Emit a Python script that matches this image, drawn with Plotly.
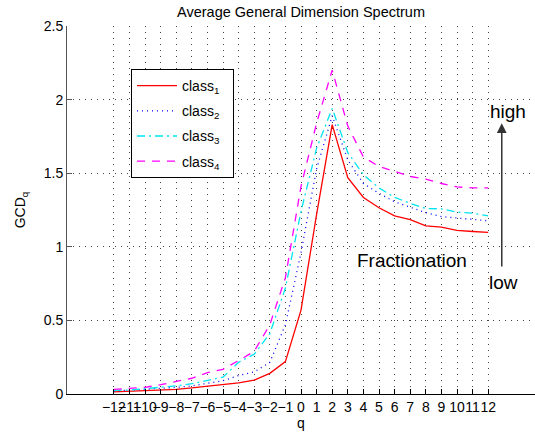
import plotly.graph_objects as go

q = list(range(-12, 13))

class1 = [0.015, 0.018, 0.021, 0.025, 0.032, 0.042, 0.053, 0.062, 0.075, 0.095, 0.14, 0.22,
          0.57, 1.22, 1.83, 1.47, 1.335, 1.265, 1.21, 1.185, 1.142, 1.133, 1.112, 1.104, 1.098]
class2 = [0.02, 0.025, 0.03, 0.035, 0.045, 0.055, 0.07, 0.09, 0.125, 0.15, 0.215, 0.47,
          0.96, 1.53, 1.89, 1.59, 1.43, 1.363, 1.306, 1.268, 1.232, 1.205, 1.196, 1.182, 1.177]
class3 = [0.025, 0.027, 0.036, 0.045, 0.056, 0.07, 0.095, 0.115, 0.215, 0.27, 0.41, 0.72,
          1.24, 1.67, 1.94, 1.64, 1.49, 1.40, 1.336, 1.295, 1.26, 1.258, 1.236, 1.228, 1.21]
class4 = [0.031, 0.036, 0.045, 0.063, 0.085, 0.107, 0.145, 0.168, 0.227, 0.29, 0.47, 0.79,
          1.41, 1.84, 2.20, 1.82, 1.61, 1.545, 1.513, 1.478, 1.46, 1.43, 1.407, 1.40, 1.40]

names = ["class<sub>1</sub>", "class<sub>2</sub>", "class<sub>3</sub>", "class<sub>4</sub>"]
series = [class1, class2, class3, class4]
colors = ["#ff0000", "#0000ff", "#00e5ee", "#ff00ff"]
dashes = ["solid", "1px,4px", "8px,4px,2px,4px", "8px,7px"]

y_ticks = [0, 0.5, 1, 1.5, 2, 2.5]
y_ticktext = ["0", "0.5", "1", "1.5", "2", "2.5"]

FONT = "Liberation Sans, Arial, Helvetica, sans-serif"

fig = go.Figure()
for i, (nm, ys) in enumerate(zip(names, series)):
    fig.add_trace(go.Scatter(
        x=q, y=ys, mode="lines", name=nm + "  ", legendgroup=f"g{i}",
        line=dict(color=colors[i], width=1.3, dash=dashes[i]),
    ))

fig.update_layout(
    width=535, height=434,
    margin=dict(l=67, r=0, t=26, b=40),
    paper_bgcolor="white", plot_bgcolor="white",
    font=dict(family=FONT, size=14, color="black"),
    title=dict(text="Average General Dimension Spectrum", x=0.5, xref="paper",
               y=1 - 12 / 434, yref="container", xanchor="center", yanchor="middle",
               font=dict(size=14.5, color="black")),
    showlegend=True,
    legend=dict(x=(131 - 67) / 468, y=(394 - 69) / 368, xanchor="left", yanchor="top",
                bgcolor="white", bordercolor="black", borderwidth=1,
                font=dict(size=14, color="black"), tracegroupgap=4,
                itemwidth=40),
    xaxis=dict(range=[-15, 15], tickvals=q, tickangle=0, automargin=False,
               showgrid=True, gridcolor="#444",
               griddash="1px,5px", gridwidth=1, showline=True, linecolor="black",
               linewidth=1, ticks="inside", ticklen=5, tickcolor="black",
               zeroline=False, mirror=False,
               title=dict(text="q", font=dict(size=14), standoff=2),
               tickfont=dict(size=14)),
    yaxis=dict(range=[0, 2.5], tickvals=y_ticks, ticktext=y_ticktext, automargin=False,
               showgrid=True,
               gridcolor="#444", griddash="1px,5px", gridwidth=1, showline=True,
               linecolor="#555", linewidth=1, ticks="inside", ticklen=5,
               tickcolor="#555", zeroline=False, mirror=False,
               title=dict(text="GCD<sub>q</sub>", font=dict(size=14), standoff=14),
               tickfont=dict(size=14)),
)

fig.add_annotation(x=13.27, y=1.92, xref="x", yref="y", text="high", showarrow=False,
                   font=dict(size=19, color="black"))
fig.add_annotation(x=12.95, y=0.76, xref="x", yref="y", text="low", showarrow=False,
                   font=dict(size=19, color="black"))
fig.add_annotation(x=7.1, y=0.91, xref="x", yref="y", text="Fractionation", showarrow=False,
                   font=dict(size=19, color="black"))
fig.add_annotation(x=12.87, y=1.84, ax=12.87, ay=0.856, xref="x", yref="y",
                   axref="x", ayref="y", text="", showarrow=True, arrowhead=2,
                   arrowsize=1.3, arrowwidth=1.5, arrowcolor="#333")

fig.write_html("out.html")
